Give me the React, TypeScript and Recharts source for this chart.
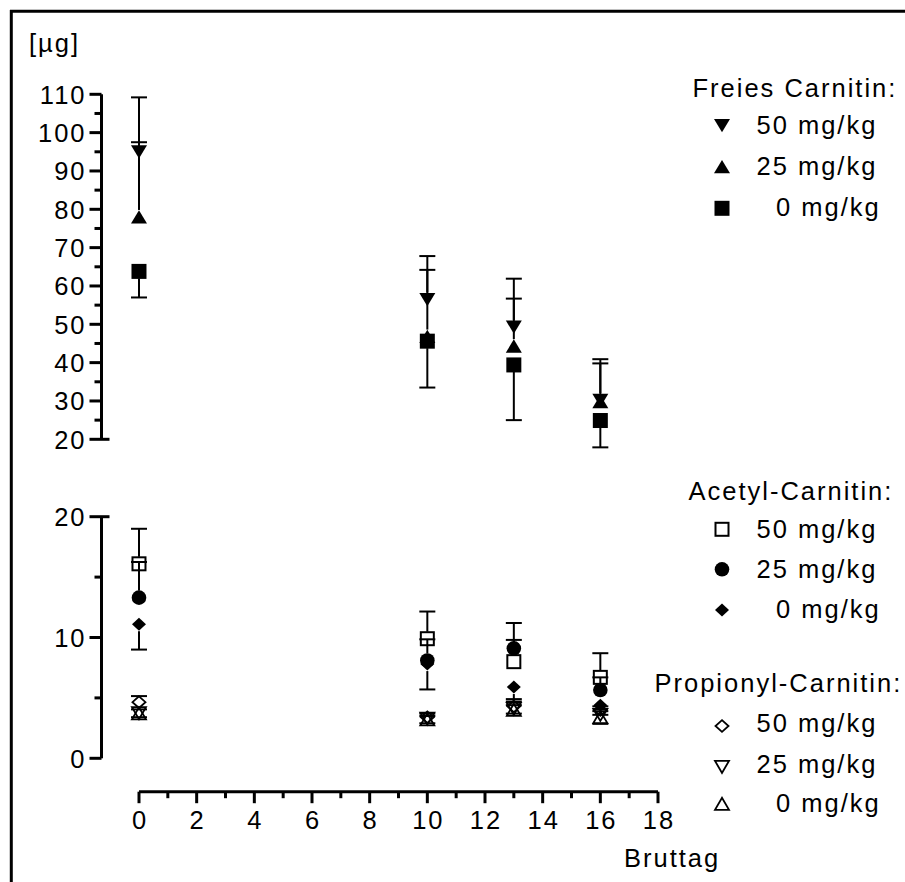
import React from 'react';
import { ScatterChart, Scatter, XAxis, YAxis, ReferenceLine } from 'recharts';

const FONT = '"Liberation Sans", Arial, Helvetica, sans-serif';
const FS = 25.5;
const LS = 2;

// ---------- data ----------
const days = [0, 10, 13, 16];
const xTicks = [0, 1, 2, 3, 4, 5, 6, 7, 8, 9, 10, 11, 12, 13, 14, 15, 16, 17, 18];
const topYTicks = [20, 25, 30, 35, 40, 45, 50, 55, 60, 65, 70, 75, 80, 85, 90, 95, 100, 105, 110];
const bottomYTicks = [0, 5, 10, 15, 20];

const yUnit = '[µg]';
const xTitle = 'Bruttag';
const doseLabels = ['50 mg/kg', '25 mg/kg', '0 mg/kg'];
const groupTitles = ['Freies Carnitin:', 'Acetyl-Carnitin:', 'Propionyl-Carnitin:'];

// Freies Carnitin
const free50 = [95, 56.5, 49.3, 30.2];
const free50Sd = [14.2, 11.3, 12.6, 10.7];
const free25 = [78, 46.8, 44.3, 29.8];
const free25Sd = [19.5, 17.4, 12.4, 10.0];
const free0 = [63.8, 45.6, 39.4, 24.9];
const free0Sd = [6.8, 12.1, 14.4, 7.0];

// Acetyl-Carnitin
const acet50 = [16.1, 9.9, 8.0, 6.7];
const acet50Sd = [2.9, 2.25, 3.2, 2.0];
const acet25 = [13.3, 8.1, 9.1, 5.65];
const acet25Sd = [2.95, 1.75, 0.7, 1.05];
const acet0 = [11.1, 7.8, 5.9, 4.4];
const acet0Sd = [2.1, 2.1, 1.0, 0.8];

// Propionyl-Carnitin
const prop50 = [4.65, 3.4, 4.3, 4.0];
const prop50Sd = [0.5, 0.3, 0.4, 0.3];
const prop25 = [3.75, 3.3, 4.1, 3.6];
const prop25Sd = [0.3, 0.2, 0.3, 0.3];
const prop0 = [3.7, 3.2, 4.0, 3.4];
const prop0Sd = [0.3, 0.3, 0.3, 0.55];

type Kind = 'triDown' | 'triUp' | 'square' | 'circle' | 'diamond' | 'oSquare' | 'oDiamond' | 'oTriDown' | 'oTriUp';

interface Series {
  name: string;
  values: number[];
  sd: number[];
  dir: 1 | -1;
  kind: Kind;
}

// drawing order matters (later on top)
const topSeries: Series[] = [
  { name: 'free25', values: free25, sd: free25Sd, dir: 1, kind: 'triUp' },
  { name: 'free50', values: free50, sd: free50Sd, dir: 1, kind: 'triDown' },
  { name: 'free0', values: free0, sd: free0Sd, dir: -1, kind: 'square' },
];
const bottomSeries: Series[] = [
  { name: 'acet0', values: acet0, sd: acet0Sd, dir: -1, kind: 'diamond' },
  { name: 'acet50', values: acet50, sd: acet50Sd, dir: 1, kind: 'oSquare' },
  { name: 'acet25', values: acet25, sd: acet25Sd, dir: 1, kind: 'circle' },
  { name: 'prop50', values: prop50, sd: prop50Sd, dir: 1, kind: 'oDiamond' },
  { name: 'prop25', values: prop25, sd: prop25Sd, dir: 1, kind: 'oTriDown' },
  { name: 'prop0', values: prop0, sd: prop0Sd, dir: -1, kind: 'oTriUp' },
];

const legendGroups: { title: string; kinds: Kind[] }[] = [
  { title: groupTitles[0], kinds: ['triDown', 'triUp', 'square'] },
  { title: groupTitles[1], kinds: ['oSquare', 'circle', 'diamond'] },
  { title: groupTitles[2], kinds: ['oDiamond', 'oTriDown', 'oTriUp'] },
];

// ---------- shapes ----------
function marker(kind: Kind, cx: number, cy: number, key?: string) {
  const k = key;
  switch (kind) {
    case 'triDown':
      return <polygon key={k} points={`${cx - 8},${cy - 6.5} ${cx + 8},${cy - 6.5} ${cx},${cy + 6.8}`} fill="#000" />;
    case 'triUp':
      return <polygon key={k} points={`${cx - 8},${cy + 6.5} ${cx + 8},${cy + 6.5} ${cx},${cy - 6.8}`} fill="#000" />;
    case 'square':
      return <rect key={k} x={cx - 7.5} y={cy - 7.5} width={15} height={15} fill="#000" />;
    case 'circle':
      return <circle key={k} cx={cx} cy={cy} r={7.3} fill="#000" />;
    case 'diamond':
      return <polygon key={k} points={`${cx},${cy - 6.5} ${cx + 7},${cy} ${cx},${cy + 6.5} ${cx - 7},${cy}`} fill="#000" />;
    case 'oSquare':
      return <rect key={k} x={cx - 6.5} y={cy - 6.5} width={13} height={13} fill="none" stroke="#000" strokeWidth={2} />;
    case 'oDiamond':
      return <polygon key={k} points={`${cx},${cy - 5.8} ${cx + 6.5},${cy} ${cx},${cy + 5.8} ${cx - 6.5},${cy}`} fill="none" stroke="#000" strokeWidth={1.8} />;
    case 'oTriDown':
      return <polygon key={k} points={`${cx - 7},${cy - 5.8} ${cx + 7},${cy - 5.8} ${cx},${cy + 6.2}`} fill="none" stroke="#000" strokeWidth={1.8} />;
    case 'oTriUp':
      return <polygon key={k} points={`${cx - 7},${cy + 5.8} ${cx + 7},${cy + 5.8} ${cx},${cy - 6.2}`} fill="none" stroke="#000" strokeWidth={1.8} />;
  }
  return null;
}

const shapeFor = (kind: Kind) => (p: any) => <g>{marker(kind, p.cx, p.cy)}</g>;

const HALF = 7;
const errShape = (p: any) => {
  const x1 = Number(p.x1), y1 = Number(p.y1), x2 = Number(p.x2), y2 = Number(p.y2);
  const dy = y2 - y1;
  const dir = dy >= 0 ? 1 : -1;
  const start = y1 + dir * HALF;
  return (
    <g>
      {Math.abs(dy) > HALF && <line x1={x1} y1={start} x2={x2} y2={y2} stroke="#000" strokeWidth={2} />}
      <line x1={x2 - 8} y1={y2} x2={x2 + 8} y2={y2} stroke="#000" strokeWidth={2} />
    </g>
  );
};

const txt = (s: string, x: number, y: number, anchor: 'start' | 'middle' | 'end' = 'start', key?: string) => (
  <text key={key} x={x} y={y} textAnchor={anchor} fontFamily={FONT} fontSize={FS} letterSpacing={LS} fill="#000">
    {s}
  </text>
);

const YTick = (props: any) => {
  const { x, y, payload } = props;
  const v = payload.value;
  const major = v % 10 === 0;
  const ext = v === 20 ? 8 : 0;
  return (
    <g>
      <line x1={x - (major ? 12 : 7)} y1={y} x2={x + ext} y2={y} stroke="#000" strokeWidth={3} />
      {major && txt(String(v), x - 15, y + 9.2, 'end')}
    </g>
  );
};

const XTick = (props: any) => {
  const { x, y, payload } = props;
  const v = payload.value;
  const major = v % 2 === 0;
  return (
    <g>
      <line x1={x} y1={y} x2={x} y2={y + (major ? 11.5 : 6.5)} stroke="#000" strokeWidth={3} />
      {major && txt(String(v), x + 1, y + 37.6, 'middle')}
    </g>
  );
};

const toPoints = (vals: number[]) => days.map((d, i) => ({ x: d, y: vals[i] }));

function panel(series: Series[]) {
  const refs: React.ReactNode[] = [];
  series.forEach((s) => {
    days.forEach((d, i) => {
      refs.push(
        <ReferenceLine
          key={`${s.name}-e${i}`}
          segment={[
            { x: d, y: s.values[i] },
            { x: d, y: s.values[i] + s.dir * s.sd[i] },
          ]}
          ifOverflow="visible"
          shape={errShape}
        />
      );
    });
  });
  const scatters = series.map((s) => (
    <Scatter key={s.name} name={s.name} data={toPoints(s.values)} shape={shapeFor(s.kind)} isAnimationActive={false} />
  ));
  return [...refs, ...scatters];
}

const W = 905;
const H = 882;
const PLOT_RIGHT_MARGIN = 247;

export default function App() {
  return (
    <div style={{ position: 'absolute', left: 0, top: 0, width: W, height: H, background: '#fff', overflow: 'hidden' }}>
      {/* top panel: Freies Carnitin */}
      <div style={{ position: 'absolute', left: 0, top: 0 }}>
        <ScatterChart width={W} height={H} margin={{ top: 94.3, right: PLOT_RIGHT_MARGIN, bottom: H - 439.3, left: 0 }}>
          <XAxis type="number" dataKey="x" domain={[-1.3, 18]} hide />
          <YAxis
            type="number"
            dataKey="y"
            domain={[20, 110]}
            ticks={topYTicks}
            interval={0}
            width={101.5}
            tick={YTick}
            tickLine={false}
            tickSize={0}
            tickMargin={0}
            axisLine={{ stroke: '#000', strokeWidth: 3 }}
          />
          {panel(topSeries)}
        </ScatterChart>
      </div>

      {/* bottom panel: Acetyl / Propionyl */}
      <div style={{ position: 'absolute', left: 0, top: 0 }}>
        <ScatterChart width={W} height={H} margin={{ top: 516.7, right: PLOT_RIGHT_MARGIN, bottom: H - 758.3, left: 0 }}>
          <XAxis type="number" dataKey="x" domain={[-1.3, 18]} hide />
          <YAxis
            type="number"
            dataKey="y"
            domain={[0, 20]}
            ticks={bottomYTicks}
            interval={0}
            width={101.5}
            tick={YTick}
            tickLine={false}
            tickSize={0}
            tickMargin={0}
            axisLine={{ stroke: '#000', strokeWidth: 3 }}
          />
          {panel(bottomSeries)}
        </ScatterChart>
      </div>

      {/* shared x axis */}
      <div style={{ position: 'absolute', left: 0, top: 0 }}>
        <ScatterChart width={W} height={H} margin={{ top: 700, right: PLOT_RIGHT_MARGIN, bottom: 0, left: 139 }}>
          <XAxis
            type="number"
            dataKey="x"
            domain={[0, 18]}
            allowDataOverflow
            ticks={xTicks}
            interval={0}
            height={H - 791.7}
            tick={XTick}
            tickLine={false}
            tickSize={0}
            tickMargin={0}
            axisLine={{ stroke: '#000', strokeWidth: 3 }}
          />
          <YAxis type="number" dataKey="y" domain={[0, 1]} hide />
          <Scatter data={days.map((d) => ({ x: d, y: 0 }))} shape={() => <g />} isAnimationActive={false} />
        </ScatterChart>
      </div>

      {/* frame, titles, legend */}
      <svg width={W} height={H} style={{ position: 'absolute', left: 0, top: 0, pointerEvents: 'none' }}>
        <line x1={11.3} y1={10} x2={11.3} y2={H} stroke="#000" strokeWidth={3} />
        <line x1={10} y1={11.3} x2={W} y2={11.3} stroke="#000" strokeWidth={3} />
        {txt(yUnit, 29, 52)}
        {txt(xTitle, 624, 866.7)}

        {/* Freies Carnitin legend */}
        {txt(legendGroups[0].title, 692.5, 96.7)}
        {marker(legendGroups[0].kinds[0], 722, 125.5, 'l00')}
        {marker(legendGroups[0].kinds[1], 722, 166.7, 'l01')}
        {marker(legendGroups[0].kinds[2], 722, 208.3, 'l02')}
        {txt(doseLabels[0], 756.5, 134)}
        {txt(doseLabels[1], 756.5, 175)}
        {txt(doseLabels[2], 776, 216)}

        {/* Acetyl-Carnitin legend */}
        {txt(legendGroups[1].title, 688.5, 500)}
        {marker(legendGroups[1].kinds[0], 722, 529.3, 'l10')}
        {marker(legendGroups[1].kinds[1], 722, 569.3, 'l11')}
        {marker(legendGroups[1].kinds[2], 722, 610, 'l12')}
        {txt(doseLabels[0], 756.5, 538.3)}
        {txt(doseLabels[1], 756.5, 577.7)}
        {txt(doseLabels[2], 776, 618.3)}

        {/* Propionyl-Carnitin legend */}
        {txt(legendGroups[2].title, 654.5, 691.7)}
        {marker(legendGroups[2].kinds[0], 722, 726, 'l20')}
        {marker(legendGroups[2].kinds[1], 722, 766.7, 'l21')}
        {marker(legendGroups[2].kinds[2], 722, 804, 'l22')}
        {txt(doseLabels[0], 756.5, 731.7)}
        {txt(doseLabels[1], 756.5, 772.7)}
        {txt(doseLabels[2], 776, 811.7)}
      </svg>
    </div>
  );
}
